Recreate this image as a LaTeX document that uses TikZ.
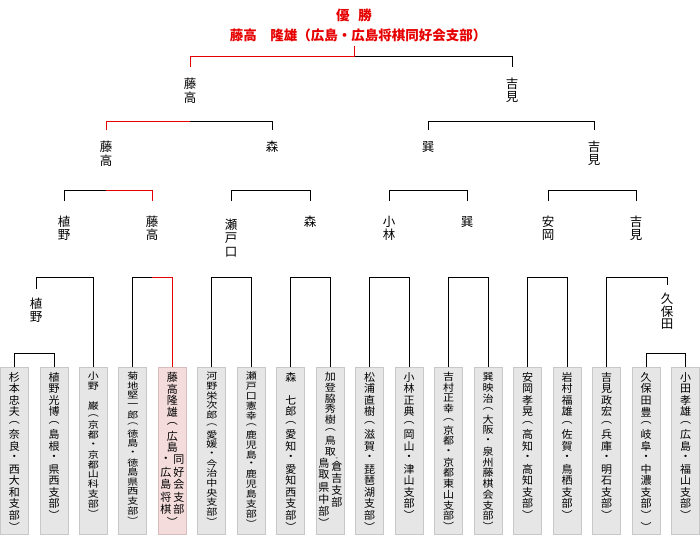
\documentclass[tikz,border=0pt]{standalone}
\usepackage{fontspec}
\setmainfont{Noto Sans CJK JP}
\usepackage{graphicx}
\usepackage{xcolor}
\usepackage{tikz}

\definecolor{winred}{HTML}{E60000}
\definecolor{boxfill}{HTML}{E6E6E6}
\definecolor{boxline}{HTML}{C8C8C8}
\definecolor{winfill}{HTML}{F5DCDC}
\definecolor{winboxline}{HTML}{D9BDBD}

% vertical text: one character per row
\newdimen\tatepitch
\newdimen\tatewd
\def\tatescl{1}
\def\tateaux#1{\ifx\relax#1\else%
  \hbox to\tatewd{\hss\vbox to\tatepitch{\vss\hbox{\scalebox{1}[\tatescl]{#1}}\vss}\hss}%
  \expandafter\tateaux\fi}
\newcommand\tatecol[3][28pt]{\vbox{\offinterlineskip\tatewd=#1\relax\tatepitch=#2pt\relax%
  \edef\tatescl{\fpeval{min(1,#2/11.7)}}\tateaux#3\relax}}
\newcommand\tatebox[1]{\vbox to 167pt{\offinterlineskip\vskip4pt#1\vss}}
\newcommand\tate[2][11.5]{\tatebox{\tatecol{#1}{#2}}}

\begin{document}
\begin{tikzpicture}[x=1pt, y=-1pt, line width=1pt,
    redline/.style={draw=winred},
    ttl/.style={text=winred, font=\fontsize{13.5}{15}\selectfont\bfseries, inner xsep=0, inner ysep=4pt},
    nm/.style={anchor=north, inner sep=0, font=\fontsize{12.5}{13}\selectfont},
    pbox/.style={draw=boxline, fill=boxfill, anchor=north, inner sep=0,
      minimum width=28pt, minimum height=167pt, font=\fontsize{11}{12}\selectfont},
    winbox/.style={pbox, draw=winboxline, fill=winfill}]
    \useasboundingbox (0,0) rectangle (700,550);

    % title
    \node[ttl] (ttl1) at (354,15) {優\hspace{9pt}勝};
    \node[ttl] (ttl2) at (358,35) {藤高　隆雄（広島・広島将棋同好会支部）};
    \coordinate (top) at (354,56);

    % names
    \node[nm] (L1a) at (190,77) {\tatecol[16pt]{13.3}{藤高}};
    \node[nm] (L1b) at (512,77) {\tatecol[16pt]{13.3}{吉見}};
    \node[nm] (L2a) at (106,140) {\tatecol[16pt]{13.3}{藤高}};
    \node[nm] (L2b) at (272,140) {\tatecol[16pt]{13.3}{森}};
    \node[nm] (L2c) at (428,140) {\tatecol[16pt]{13.3}{巽}};
    \node[nm] (L2d) at (594,140) {\tatecol[16pt]{13.3}{吉見}};
    \node[nm] (L3a) at (64,214.5) {\tatecol[16pt]{13.3}{植野}};
    \node[nm] (L3b) at (152,214.5) {\tatecol[16pt]{13.3}{藤高}};
    \node[nm] (L3c) at (231,218) {\tatecol[16pt]{13.3}{瀬戸口}};
    \node[nm] (L3d) at (310,214.5) {\tatecol[16pt]{13.3}{森}};
    \node[nm] (L3e) at (389,214.5) {\tatecol[16pt]{13.3}{小林}};
    \node[nm] (L3f) at (467,214.5) {\tatecol[16pt]{13.3}{巽}};
    \node[nm] (L3g) at (548,214.5) {\tatecol[16pt]{13.3}{安岡}};
    \node[nm] (L3h) at (636,214.5) {\tatecol[16pt]{13.3}{吉見}};
    \node[nm] (L4a) at (36,296.7) {\tatecol[16pt]{13.3}{植野}};
    \node[nm] (L4b) at (667,291.7) {\tatecol[16pt]{12.8}{久保田}};

    % players
    \node[pbox] (b1) at (14.5,367) {\tate{杉本忠夫︵奈良・西大和支部︶}};
    \node[pbox] (b2) at (54,367) {\tate{植野光博︵島根・県西支部︶}};
    \node[pbox] (b3) at (93.4,367) {\tate[9.8]{小野　巌︵京都・京都山科支部︶}};
    \node[pbox] (b4) at (132.9,367) {\tate[9.6]{菊地堅一郎︵徳島・徳島県西支部︶}};
    \node[winbox] (b5) at (172.4,367) {\tatebox{\tatecol{11.7}{藤高隆雄︵広島}%
      \hbox to 28pt{\hss\tatecol[13pt]{12.5}{・広島将棋}\tatecol[13pt]{12.5}{同好会支部}\hss}%
      \tatecol{12.5}{︶}}};
    \node[pbox] (b6) at (211.9,367) {\tate[9.7]{河野栄次郎︵愛媛・今治中央支部︶}};
    \node[pbox] (b7) at (251.3,367) {\tate[9.8]{瀬戸口憲幸︵鹿児島・鹿児島支部︶}};
    \node[pbox] (b8) at (290.8,367) {\tate{森　七郎︵愛知・愛知西支部︶}};
    \node[pbox] (b9) at (330.3,367) {\tatebox{\tatecol{10.7}{加登脇秀樹︵鳥取}%
      \hbox to 28pt{\hss\tatecol[13pt]{12}{鳥取県中部︶}%
      \vbox to 72pt{\offinterlineskip\tatecol[13pt]{3}{・}\tatecol[13pt]{12}{倉吉支部}\vss}\hss}}};
    \node[pbox] (b10) at (369.7,367) {\tate{松浦直樹︵滋賀・琵琶湖支部︶}};
    \node[pbox] (b11) at (409.2,367) {\tate{小林正典︵岡山・津山支部︶}};
    \node[pbox] (b12) at (448.7,367) {\tate[10.7]{吉村正幸︵京都・京都東山支部︶}};
    \node[pbox] (b13) at (488.1,367) {\tate[10.7]{巽映治︵大阪・泉州藤棋会支部︶}};
    \node[pbox] (b14) at (527.6,367) {\tate{安岡孝晃︵高知・高知支部︶}};
    \node[pbox] (b15) at (567.1,367) {\tate{岩村福雄︵佐賀・鳥栖支部︶}};
    \node[pbox] (b16) at (606.6,367) {\tate{吉見政宏︵兵庫・明石支部︶}};
    \node[pbox] (b17) at (646,367) {\tate{久保田豊︵岐阜・中濃支部︶︶}};
    \node[pbox] (b18) at (685.5,367) {\tate{小田孝雄︵広島・福山支部︶}};

    % brackets
    \draw (top) -| ([yshift=10pt]L1b.north);
    \draw ([yshift=10pt]L2a.north) -- ++(0,-9) -| ([yshift=10pt]L2b.north);
    \draw ([yshift=10pt]L2c.north) -- ++(0,-9) -| ([yshift=10pt]L2d.north);
    \draw ([yshift=14pt]L3a.north) -- ++(0,-10.5) -| ([yshift=14pt]L3b.north);
    \draw ([yshift=17.5pt]L3c.north) -- ++(0,-10.5) -| ([yshift=14pt]L3d.north);
    \draw ([yshift=14pt]L3e.north) -- ++(0,-10.5) -| ([yshift=14pt]L3f.north);
    \draw ([yshift=14pt]L3g.north) -- ++(0,-10.5) -| ([yshift=14pt]L3h.north);
    \draw ([yshift=7.5pt]L4a.north) -- ++(0,-12) -| (b3.north);
    \draw (b4.north) -- ++(0,-90) -| (b5.north);
    \draw (b6.north) -- ++(0,-90) -| (b7.north);
    \draw (b8.north) -- ++(0,-90) -| (b9.north);
    \draw (b10.north) -- ++(0,-90) -| (b11.north);
    \draw (b12.north) -- ++(0,-90) -| (b13.north);
    \draw (b14.north) -- ++(0,-90) -| (b15.north);
    \draw (b16.north) -- ++(0,-90) -| ([yshift=6.7pt]L4b.north);
    \draw (b1.north) -- ++(0,-14) -| (b2.north);
    \draw (b17.north) -- ++(0,-14) -| (b18.north);

    % winner's way
    \draw[redline] (ttl1.south |- ttl2.south) -- (top) -| ([yshift=10pt]L1a.north);
    \draw[redline] ([yshift=10pt]L2a.north) -- ++(0,-9) -- ++(84,0);
    \draw[redline] ([yshift=14pt]L3b.north) -- ++(0,-10.5) -- ++(-46,0);
    \draw[redline] (b5.north) -- ++(0,-90) -- ++(-20,0);
\end{tikzpicture}
\end{document}
